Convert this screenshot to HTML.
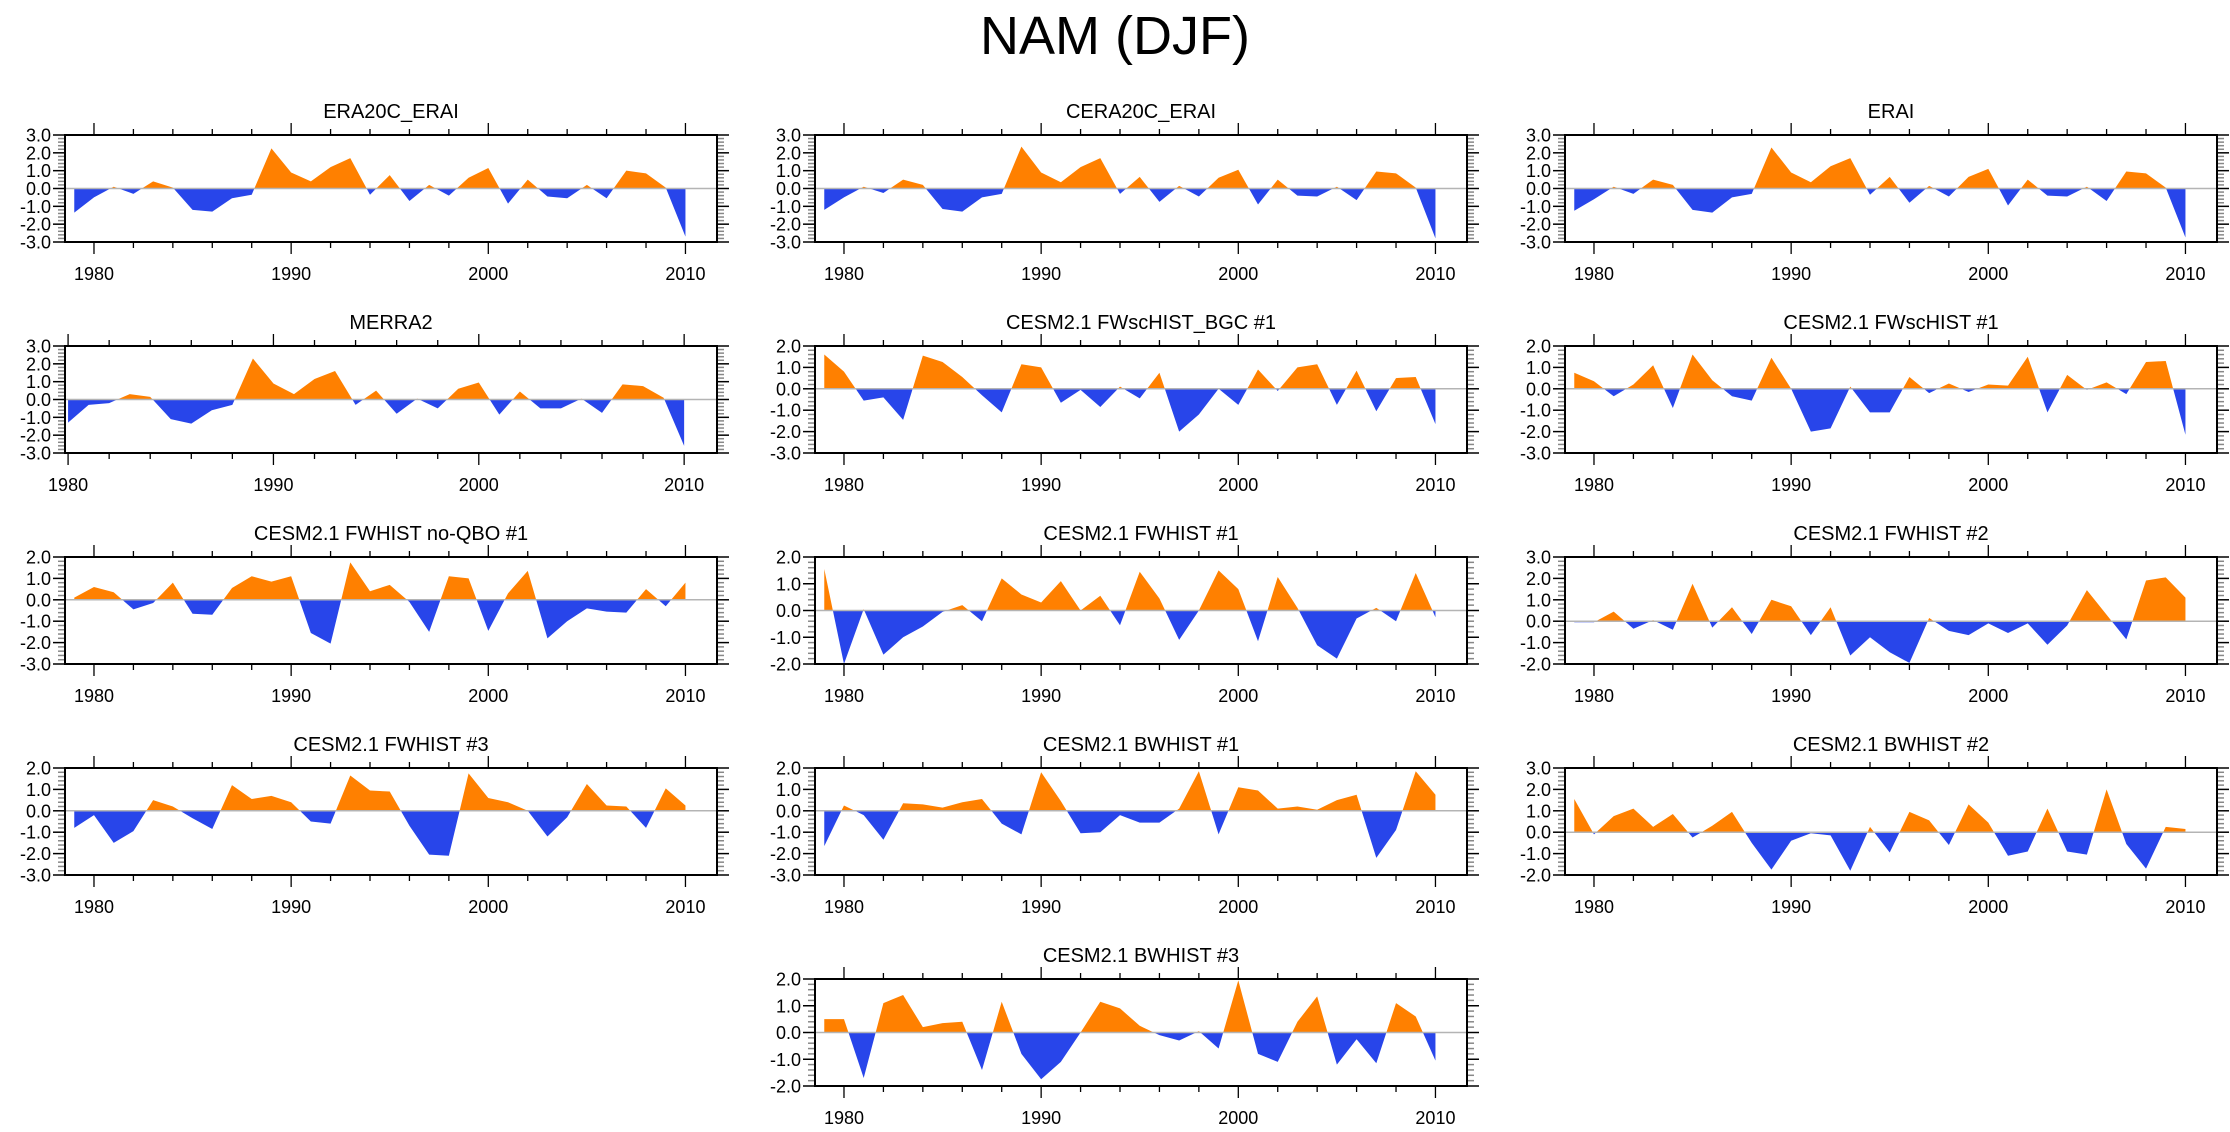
<!DOCTYPE html>
<html><head><meta charset="utf-8">
<style>
html,body{margin:0;padding:0;background:#fff;}
svg{display:block;font-family:"Liberation Sans",Arial,sans-serif;}
</style></head>
<body>
<svg id="chart" width="2230" height="1132" viewBox="0 0 2230 1132" xmlns="http://www.w3.org/2000/svg">
<rect width="2230" height="1132" fill="#fff"/>
<text x="1115" y="54" text-anchor="middle" font-size="54" fill="#000">NAM (DJF)</text>
</svg>
<script>
const titles = ["ERA20C_ERAI","CERA20C_ERAI","ERAI","MERRA2","CESM2.1 FWscHIST_BGC #1","CESM2.1 FWscHIST #1","CESM2.1 FWHIST no-QBO #1","CESM2.1 FWHIST #1","CESM2.1 FWHIST #2","CESM2.1 FWHIST #3","CESM2.1 BWHIST #1","CESM2.1 BWHIST #2","CESM2.1 BWHIST #3"];
const startYears = [1979,1979,1979,1980,1979,1979,1979,1979,1979,1979,1979,1979,1979];
const yMins = [-3,-3,-3,-3,-3,-3,-3,-2,-2,-3,-3,-2,-2];
const yMaxs = [3,3,3,3,2,2,2,2,3,2,2,3,2];
const xTickYears = [1980,1990,2000,2010];
const s_era20c = [-1.35,-0.5,0.1,-0.3,0.4,0.05,-1.2,-1.3,-0.55,-0.35,2.25,0.9,0.4,1.2,1.7,-0.35,0.75,-0.7,0.2,-0.4,0.6,1.15,-0.85,0.5,-0.45,-0.55,0.2,-0.55,1.0,0.85,0.05,-2.7];
const s_cera20c = [-1.2,-0.5,0.1,-0.25,0.5,0.2,-1.15,-1.3,-0.5,-0.3,2.35,0.9,0.35,1.2,1.7,-0.3,0.65,-0.75,0.15,-0.45,0.6,1.05,-0.9,0.5,-0.4,-0.45,0.1,-0.65,0.95,0.85,0.05,-2.8];
const s_erai = [-1.25,-0.6,0.1,-0.3,0.5,0.2,-1.2,-1.35,-0.5,-0.3,2.3,0.9,0.35,1.25,1.7,-0.35,0.65,-0.8,0.15,-0.45,0.65,1.1,-0.95,0.5,-0.4,-0.45,0.1,-0.7,0.95,0.85,0.05,-2.75];
const s_merra2 = [-1.3,-0.3,-0.2,0.3,0.15,-1.1,-1.35,-0.6,-0.3,2.3,0.9,0.3,1.15,1.6,-0.3,0.5,-0.8,0.05,-0.5,0.6,0.95,-0.85,0.45,-0.5,-0.5,0.05,-0.75,0.85,0.75,0.1,-2.6];
const s_bgc = [1.6,0.8,-0.55,-0.4,-1.45,1.55,1.25,0.55,-0.3,-1.1,1.15,1.0,-0.65,-0.05,-0.85,0.1,-0.45,0.75,-2.0,-1.2,0.0,-0.75,0.9,-0.1,1.0,1.15,-0.75,0.85,-1.05,0.5,0.55,-1.65];
const s_fwsc = [0.75,0.35,-0.35,0.2,1.1,-0.9,1.6,0.4,-0.35,-0.55,1.45,0.0,-2.0,-1.85,0.1,-1.1,-1.1,0.55,-0.2,0.25,-0.15,0.2,0.15,1.5,-1.1,0.65,-0.05,0.3,-0.25,1.25,1.3,-2.15];
const s_noqbo = [0.1,0.6,0.35,-0.45,-0.15,0.8,-0.65,-0.7,0.55,1.1,0.85,1.1,-1.55,-2.05,1.75,0.4,0.7,-0.1,-1.5,1.1,1.0,-1.45,0.3,1.35,-1.8,-1.0,-0.4,-0.55,-0.6,0.5,-0.3,0.8];
const s_fw1 = [1.55,-2.0,0.05,-1.65,-1.0,-0.6,-0.05,0.2,-0.4,1.2,0.6,0.3,1.1,0.0,0.55,-0.55,1.45,0.45,-1.1,0.0,1.5,0.8,-1.15,1.25,0.1,-1.3,-1.8,-0.3,0.1,-0.4,1.4,-0.25];
const s_fw2 = [-0.05,-0.05,0.45,-0.35,0.05,-0.4,1.75,-0.3,0.65,-0.6,1.0,0.7,-0.65,0.65,-1.6,-0.75,-1.45,-1.95,0.15,-0.45,-0.65,-0.1,-0.55,-0.1,-1.1,-0.2,1.45,0.3,-0.85,1.9,2.05,1.1];
const s_fw3 = [-0.8,-0.2,-1.5,-0.95,0.5,0.2,-0.35,-0.85,1.2,0.55,0.7,0.4,-0.5,-0.6,1.65,0.95,0.9,-0.7,-2.05,-2.1,1.75,0.6,0.4,0.0,-1.2,-0.3,1.25,0.25,0.2,-0.8,1.05,0.25];
const s_bw1 = [-1.65,0.25,-0.2,-1.35,0.35,0.3,0.15,0.4,0.55,-0.6,-1.1,1.8,0.45,-1.05,-1.0,-0.2,-0.55,-0.55,0.1,1.85,-1.1,1.1,0.95,0.1,0.2,0.05,0.5,0.75,-2.2,-0.9,1.85,0.75];
const s_bw2 = [1.55,-0.1,0.75,1.1,0.25,0.85,-0.25,0.3,0.95,-0.5,-1.75,-0.4,-0.05,-0.15,-1.8,0.25,-0.95,0.95,0.55,-0.6,1.3,0.45,-1.1,-0.9,1.1,-0.9,-1.05,2.0,-0.55,-1.7,0.25,0.15];
const s_bw3 = [0.5,0.5,-1.7,1.1,1.4,0.2,0.35,0.4,-1.4,1.15,-0.8,-1.75,-1.1,0.0,1.15,0.9,0.25,-0.1,-0.3,0.05,-0.6,1.95,-0.8,-1.1,0.4,1.35,-1.2,-0.25,-1.15,1.1,0.6,-1.05];
const seriesList = [s_era20c,s_cera20c,s_erai,s_merra2,s_bgc,s_fwsc,s_noqbo,s_fw1,s_fw2,s_fw3,s_bw1,s_bw2,s_bw3];

const NS = "http://www.w3.org/2000/svg";
const svg = document.getElementById('chart');
const colLefts = [65,815,1565];
const rowTops = [135,346,557,768,979];
const PW = 652, PH = 107;
const cells = [[0,0],[0,1],[0,2],[1,0],[1,1],[1,2],[2,0],[2,1],[2,2],[3,0],[3,1],[3,2],[4,1]];
const XMAX = 2011.6;

function mk(tag, attrs, parent){
  const e = document.createElementNS(NS, tag);
  for (const k in attrs) e.setAttribute(k, attrs[k]);
  parent.appendChild(e);
  return e;
}

seriesList.forEach((vals, p) => {
  const L = colLefts[cells[p][1]], T = rowTops[cells[p][0]];
  const R = L + PW, B = T + PH;
  const y0 = startYears[p];
  const xmin = y0 === 1979 ? 1978.53 : 1979.85;
  const ymin = yMins[p], ymax = yMaxs[p];
  const xs = yr => L + (yr - xmin) / (XMAX - xmin) * PW;
  const ys = v => B - (v - ymin) / (ymax - ymin) * PH;

  const g = mk('g', {}, svg);
  
  

  const t = mk('text', {x: L + PW / 2, y: T - 17, 'text-anchor': 'middle', 'font-size': 20, fill: '#000'}, g);
  
  
  t.textContent = titles[p];

  const zy = ys(0);
  let d = 'M' + xs(y0) + ',' + zy;
  vals.forEach((v, i) => { d += ' L' + xs(y0 + i).toFixed(2) + ',' + ys(v).toFixed(2); });
  d += ' L' + xs(y0 + vals.length - 1) + ',' + zy + ' Z';
  const cid = 'clipA' + p, cid2 = 'clipB' + p;
  const defs = mk('defs', {}, g);
  const c1 = mk('clipPath', {id: cid}, defs);
  mk('rect', {x: L, y: T, width: PW, height: zy - T}, c1);
  const c2 = mk('clipPath', {id: cid2}, defs);
  mk('rect', {x: L, y: zy, width: PW, height: B - zy}, c2);
  const pos = mk('path', {d: d, fill: '#FF8000', 'clip-path': 'url(#' + cid + ')'}, g);
  
  
  const neg = mk('path', {d: d, fill: '#2845EA', 'clip-path': 'url(#' + cid2 + ')'}, g);
  
  

  const zl = mk('line', {x1: L, x2: R, y1: zy, y2: zy, stroke: '#b4b4b4', 'stroke-width': 1.5}, g);
  
  

  for (let k = Math.round(ymin * 5); k <= Math.round(ymax * 5); k++) {
    const v = k / 5, yy = ys(v);
    const major = k % 5 === 0;
    const len = major ? 12 : 7;
    const col = major ? '#000' : '#888';
    mk('line', {x1: L - len, x2: L, y1: yy, y2: yy, stroke: col, 'stroke-width': 1.5}, g);
    mk('line', {x1: R, x2: R + len, y1: yy, y2: yy, stroke: col, 'stroke-width': 1.5}, g);
    if (major) {
      const lb = mk('text', {x: L - 14, y: yy + 6.5, 'text-anchor': 'end', 'font-size': 18, fill: '#000'}, g);
      
      
      lb.textContent = v.toFixed(1);
    }
  }
  for (let yr = 1980; yr <= 2010; yr += 2) {
    const xx = xs(yr);
    const major = yr % 10 === 0;
    const len = major ? 12 : 6;
    mk('line', {x1: xx, x2: xx, y1: T - len, y2: T, stroke: '#000', 'stroke-width': 1.3}, g);
    mk('line', {x1: xx, x2: xx, y1: B, y2: B + len, stroke: '#000', 'stroke-width': 1.3}, g);
  }
  xTickYears.forEach(yr => {
    const lb = mk('text', {x: xs(yr), y: B + 38, 'text-anchor': 'middle', 'font-size': 18, fill: '#000'}, g);
    
    
    lb.textContent = yr;
  });
  const fr = mk('rect', {x: L, y: T, width: PW, height: PH, fill: 'none', stroke: '#000', 'stroke-width': 2}, g);
  
  
});
</script>
</body></html>
